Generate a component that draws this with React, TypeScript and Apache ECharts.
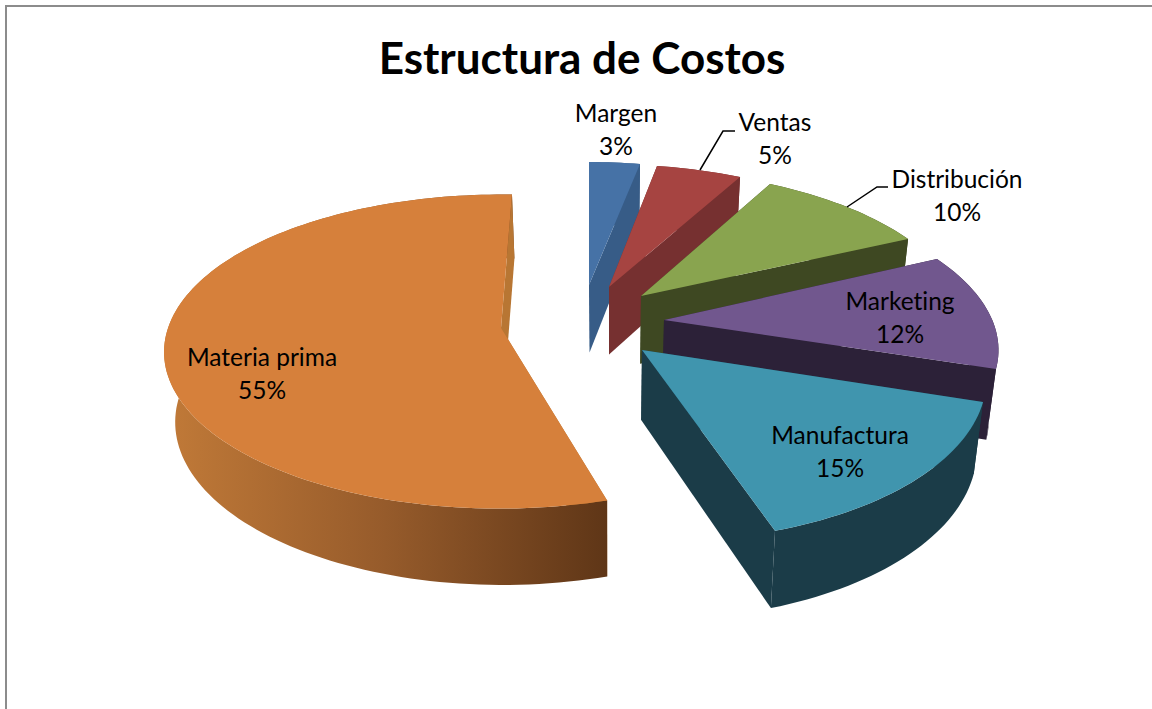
import React, { useEffect, useRef } from "react";
import * as echarts from "echarts";

const CATEGORIES = ["Margen", "Ventas", "Distribución", "Marketing", "Manufactura", "Materia prima"];
const VALUES = [3, 5, 10, 12, 15, 55];
const PERCENT_LABELS = ["3%", "5%", "10%", "12%", "15%", "55%"];
const TITLE = "Estructura de Costos";

const TOP_COLORS = ["#4672a6", "#a64441", "#89a44f", "#71578e", "#4095ae", "#d6803b"];
const WALL_COLORS = ["#375c87", "#763030", "#3e4822", "#2c2138", "#1b3c48", "#b87633"];

// Perspective constants of the tilted pie
const ROTATION = 2;
const PERSP = 0.15;
// Per-slice explosion and projection (apex ax/ay, scale A/B, shear K/L)
const SLICE_LAYOUT = [
  { ax: 589, ay: 285, A: 311.9, K: 10.9, B: 141.4, L: -3.7 },
  { ax: 609, ay: 287, A: 313.7, K: 14.8, B: 140.8, L: -6.3 },
  { ax: 641, ay: 296, A: 315.7, K: 18.6, B: 145.1, L: -3.5 },
  { ax: 664, ay: 320, A: 325.7, K: 26, B: 151.1, L: -5.5 },
  { ax: 642, ay: 350, A: 336.3, K: 22, B: 163, L: -6.9 },
  { ax: 501, ay: 328, A: 333, K: -1, B: 153.5, L: 0 },
];
const LABEL_LAYOUT = [
  { x: 616, y: 112 },
  { x: 775, y: 121 },
  { x: 957, y: 178 },
  { x: 900, y: 300 },
  { x: 840, y: 434 },
  { x: 262, y: 356 },
];
const LEADERS: Record<number, number[][]> = {
  1: [[700, 170], [723, 131], [735, 131]],
  2: [[847, 207], [877, 187], [888, 187]],
};
const FONT = "Lato";
const LABEL_SIZE = 24.5;
const LINE_GAP = 33;

const bottomOf = (p: number[]) => [p[0] * 0.975 + 0.025 * 610, p[1] * 1.04 + 56];

function renderSlice(params: any, api: any) {
  const i = params.dataIndex;
  const total = VALUES.reduce((a, b) => a + b, 0);
  const before = VALUES.slice(0, i).reduce((a, b) => a + b, 0);
  const start = ROTATION + (before / total) * 360;
  const end = start + (api.value(0) / total) * 360;
  const lay = SLICE_LAYOUT[i];
  const proj = (deg: number) => {
    const t = (deg * Math.PI) / 180;
    const w = 1 + PERSP * Math.cos(t);
    const X = Math.sin(t) / w;
    const Y = -Math.cos(t) / w;
    return [lay.ax + lay.A * X + lay.K * Y, lay.ay + lay.B * Y + lay.L * X];
  };
  const n = Math.max(2, Math.ceil((end - start) / 1.5));
  const arc: number[][] = [];
  for (let k = 0; k <= n; k++) arc.push(proj(start + ((end - start) * k) / n));
  const apex = [lay.ax, lay.ay];
  const apexB = bottomOf(apex);
  const arcB = arc.map(bottomOf);
  const wall = WALL_COLORS[i];
  const outerFill =
    i === 5
      ? {
          type: "linear",
          x: 0,
          y: 0,
          x2: 1,
          y2: 0,
          colorStops: [
            { offset: 0, color: "#c17a38" },
            { offset: 0.5, color: "#965b2b" },
            { offset: 1, color: "#5f3617" },
          ],
        }
      : wall;
  const poly = (points: number[][], fill: any) => ({
    type: "polygon",
    shape: { points },
    style: { fill, stroke: null },
    silent: true,
  });
  const children: any[] = [
    poly([apex, arc[0], arcB[0], apexB], wall),
    poly([...arc, ...arcB.slice().reverse()], outerFill),
    poly([apex, arc[n], arcB[n], apexB], wall),
    poly([apex, ...arc], TOP_COLORS[i]),
  ];
  if (LEADERS[i]) {
    children.push({
      type: "polyline",
      shape: { points: LEADERS[i] },
      style: { stroke: "#000", lineWidth: 1.5, fill: null },
      silent: true,
    });
  }
  const lp = LABEL_LAYOUT[i];
  const txt = (text: string, y: number) => ({
    type: "text",
    silent: true,
    style: {
      text,
      x: lp.x,
      y,
      fill: "#000",
      font: `${LABEL_SIZE}px ${FONT}`,
      textAlign: "center",
      textVerticalAlign: "middle",
    },
  });
  children.push(txt(CATEGORIES[i], lp.y), txt(PERCENT_LABELS[i], lp.y + LINE_GAP));
  return { type: "group", children };
}

export default function App() {
  const ref = useRef<HTMLDivElement>(null);
  useEffect(() => {
    const chart = echarts.init(ref.current!, null, { renderer: "svg" });
    chart.setOption({
      animation: false,
      backgroundColor: "#ffffff",
      title: {
        text: TITLE,
        left: 577,
        top: 30,
        textAlign: "center",
        textStyle: { fontFamily: FONT, fontWeight: "bold", fontSize: 44, color: "#000" },
      },
      graphic: [
        {
          type: "polyline",
          shape: { points: [[1152, 6], [6, 6], [6, 709]] },
          style: { stroke: "#8c8c8c", lineWidth: 2, fill: null },
          silent: true,
        },
      ],
      series: [
        {
          type: "custom",
          coordinateSystem: "none",
          renderItem: renderSlice,
          data: VALUES.map((v, i) => ({ name: CATEGORIES[i], value: [v] })),
          silent: true,
        },
      ],
    });
    return () => chart.dispose();
  }, []);
  return (
    <>
      <style>{"svg text{font-variant-ligatures:none !important;}"}</style>
      <div ref={ref} style={{ position: "fixed", left: 0, top: 0, width: 1152, height: 709 }} />
    </>
  );
}
